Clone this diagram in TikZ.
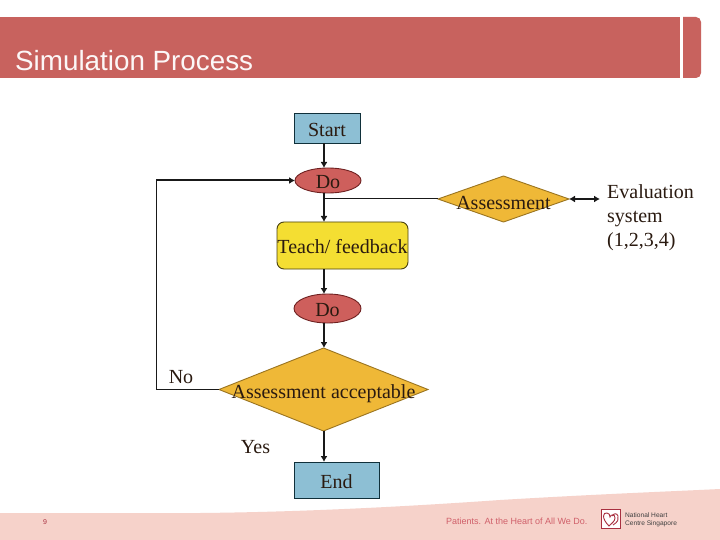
\documentclass[tikz,border=0pt]{standalone}
\usepackage{fontspec}
\setmainfont{Liberation Serif}
\newfontfamily\arialf{Liberation Sans}
\usetikzlibrary{shapes.geometric,arrows.meta}
\definecolor{hdr}{HTML}{C8625E}
\definecolor{foot}{HTML}{F6D2CA}
\definecolor{bluebox}{HTML}{8DBFD4}
\definecolor{redell}{HTML}{CE5F5C}
\definecolor{yel}{HTML}{F4DE32}
\definecolor{gold}{HTML}{EFB837}
\definecolor{edgeb}{HTML}{10303A}
\definecolor{edger}{HTML}{6E2020}
\definecolor{edgey}{HTML}{4A4210}
\definecolor{edgeg}{HTML}{9A7420}
\definecolor{inkt}{HTML}{2A1A10}
\definecolor{pagenum}{HTML}{A83040}
\definecolor{slog}{HTML}{D0606A}
\tikzset{
  x=1pt,y=-1pt,
  lbl/.style={inner sep=0pt,outer sep=0pt,yshift=-1.2pt,font=\fontsize{20}{24}\selectfont,text=inkt},
  lbld/.style={lbl,yshift=-3pt},
  txt/.style={label={[lbl]center:#1}},
  txtd/.style={label={[lbld]center:#1}},
  shp/.style={draw=edgeb,line width=0.9pt,inner sep=0pt,outer sep=0pt},
  procbox/.style={shp,rectangle,fill=bluebox},
  oval/.style={shp,ellipse,fill=redell,draw=edger},
  roundbox/.style={shp,rectangle,rounded corners=7pt,fill=yel,draw=edgey},
  decide/.style={shp,diamond,fill=gold,draw=edgeg},
  lab/.style={inner sep=0pt,font=\fontsize{20}{24}\selectfont,text=inkt},
  flow/.style={line width=2pt,color=black!90,-{Latex[length=6pt,width=7pt]}},
  thinline/.style={line width=1pt,color=black!90}
}
\begin{document}
\begin{tikzpicture}
\useasboundingbox (0,0) rectangle (720,540);
\fill[white] (0,0) rectangle (720,540);
% header
\fill[hdr] (0,17) rectangle (680,78);
\fill[hdr,rounded corners=5pt] (683,17) -- (701,17) -- (701,78) -- (683,78) [sharp corners] -- cycle;
\fill[hdr] (683,17) rectangle (690,78);
\node[anchor=base west,inner sep=0pt,text=white!95!hdr,font=\arialf\fontsize{27.8}{30}\selectfont] (title) at (15,70.5) {Simulation Process};
% footer
\fill[foot] (0,513) -- (200,513) .. controls (300,512) and (400,507) .. (500,500) .. controls (600,494) and (680,491) .. (720,489) -- (720,540) -- (0,540) -- cycle;
\node[inner sep=0pt,text=pagenum,font=\arialf\fontsize{7}{8}\selectfont] (pg) at (45,522) {9};
\node[anchor=west,inner sep=0pt,text=slog,font=\arialf\fontsize{9}{10}\selectfont] (slogan) at (446,521) {Patients. At the Heart of All We Do.};
\node[draw=pagenum,fill=white,line width=0.7pt,minimum width=19pt,minimum height=19pt,inner sep=0pt] (logo) at (611,519) {};
\draw[pagenum,line width=0.9pt] (613,525) .. controls (618,522) and (619,519) .. (618,516) .. controls (617,513) and (614,513) .. (612,516);
\draw[pagenum,line width=0.9pt] (609,526) .. controls (601,518) and (603,512) .. (607,513) .. controls (609,513) and (610,515) .. (610,517) .. controls (611,514) and (615,514) .. (615,518) .. controls (615,521) and (612,523) .. (609,526) -- cycle;
\node[anchor=west,inner sep=0pt,align=left,text=black!75,font=\arialf\fontsize{6.6}{7.5}\selectfont] (nhc) at (625,520) {National Heart\\Centre Singapore};
% nodes
\node[procbox,minimum width=66pt,minimum height=30pt,txt=Start] (start) at (327,128.5) {};
\node[oval,minimum width=66pt,minimum height=25pt,txt=Do] (do1) at (328,180.5) {};
\node[roundbox,minimum width=131pt,minimum height=47pt,txt={Teach/ feedback}] (teach) at (342.5,245.5) {};
\node[oval,minimum width=67pt,minimum height=29pt,txt=Do] (do2) at (327.5,308.5) {};
\node[decide,minimum width=209pt,minimum height=83pt,txtd={Assessment acceptable}] (acc) at (323.5,389.5) {};
\node[procbox,minimum width=85pt,minimum height=36pt,txt=End] (endn) at (336.5,480) {};
\node[decide,minimum width=131pt,minimum height=46pt,txtd=Assessment] (assess) at (503.5,199) {};
\node[lab,anchor=west,align=left] (evalu) at (607,217.5) {Evaluation\\system\\(1,2,3,4)};
\node[lab,anchor=base] (no) at (181,383) {No};
\node[lab,anchor=base] (yes) at (255.5,453) {Yes};
% junctions
\coordinate (cs) at (324,143.5);
\coordinate (cd) at (324,168);
\coordinate (d1b) at (324,193);
\coordinate (tt) at (324,222);
\coordinate (tb) at (324,269);
\coordinate (d2t) at (324,294);
\coordinate (d2b) at (324,323);
\coordinate (at) at (324,348);
\coordinate (ab) at (324,431);
\coordinate (et) at (324,462);
\coordinate (j) at (324,199);
\coordinate (loopb) at (156,389.5);
\coordinate (loopt) at (156,180.5);
\coordinate (evl) at (600,199);
% connectors
\draw[flow] (cs) -- (cd);
\draw[flow] (d1b) -- (tt);
\draw[flow] (tb) -- (d2t);
\draw[flow] (d2b) -- (at);
\draw[flow] (ab) -- (et);
\draw[thinline] (j) -- (assess.west);
\draw[thinline] (acc.west) -- (loopb) -- (loopt);
\draw[flow] (loopt) -- (do1.west);
\draw[line width=1.5pt,color=black!90,{Latex[length=6pt,width=7pt]}-{Latex[length=6pt,width=7pt]}] (assess.east) -- (evl);
\end{tikzpicture}
\end{document}
